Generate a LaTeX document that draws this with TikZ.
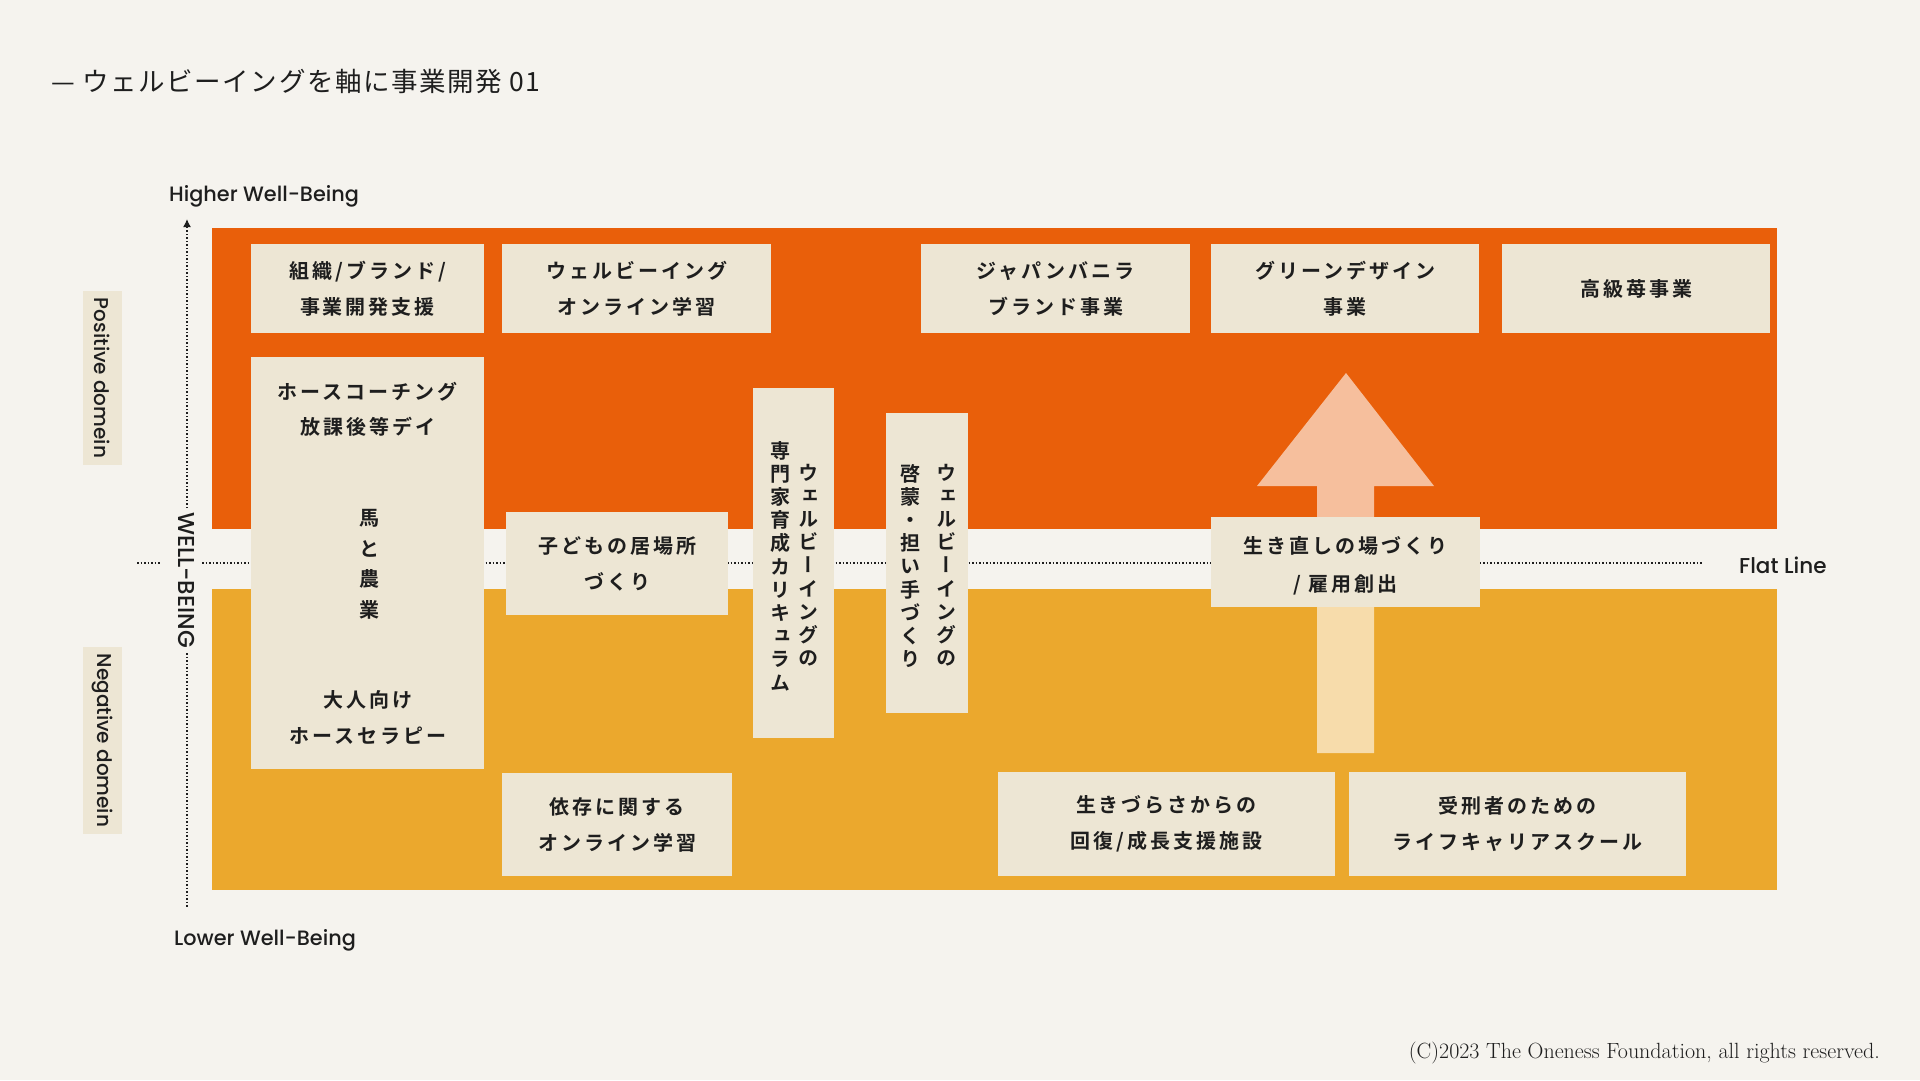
\documentclass[tikz,border=0pt]{standalone}
\usepackage{fontspec}
\usetikzlibrary{arrows.meta}
\newfontfamily\jpb{Noto Sans CJK JP}[UprightFont=* Bold, LetterSpace=15]
\newfontfamily\jpv{Noto Sans CJK JP}[UprightFont=* Bold, RawFeature=+vert]
\newfontfamily\jpt{Noto Sans CJK JP}[LetterSpace=6]
\newfontfamily\pop{Poppins Medium}
\definecolor{bgc}{HTML}{F5F3EE}
\definecolor{orng}{HTML}{E95F0A}
\definecolor{yllw}{HTML}{EBA82D}
\definecolor{boxc}{HTML}{EDE6D4}
\definecolor{ink}{HTML}{1E1E1E}
\tikzset{
  cbox/.style={fill=boxc, draw=none, inner sep=0pt},
  btxt/.style={font=\jpb\fontsize{20}{36}\selectfont, text=ink, align=center, inner sep=0pt},
  vtxt/.style={font=\jpv\fontsize{20}{23.2}\selectfont, text=ink, align=center, inner sep=0pt},
  lbl/.style={font=\pop\fontsize{20.8}{24}\selectfont, text=ink, inner sep=0pt},
  dots/.style={draw=ink, line width=1.5pt, dash pattern=on 1.5pt off 2pt},
}
\begin{document}
\begin{tikzpicture}[x=1pt,y=-1pt]
\fill[bgc] (0,0) rectangle (1920,1080);
\useasboundingbox (0,0) rectangle (1920,1080);
% bands
\fill[orng] (212,228) rectangle (1777,529);
\fill[yllw] (212,589) rectangle (1777,890);
% title
\node[anchor=west, font=\jpt\fontsize{26.5}{30}\selectfont, text=ink, inner sep=0pt] (title) at (51,81) {— ウェルビーイングを軸に事業開発 01};
% axis labels
\node[lbl, anchor=base west] (higher) at (169,201) {Higher Well-Being};
\node[lbl, anchor=base west] (lower) at (174,945) {Lower Well-Being};
\node[lbl, font=\pop\fontsize{21.5}{24}\selectfont, anchor=base west] (flat) at (1739,573) {Flat Line};
\node[lbl, font=\pop\fontsize{23}{26}\selectfont, rotate=-90] (wb) at (187,580) {WELL-BEING};
\node[cbox, lbl, font=\pop\fontsize{20}{24}\selectfont, rotate=-90, minimum width=174pt, minimum height=39pt] (pos) at (102.5,378) {Positive domein};
\node[cbox, lbl, font=\pop\fontsize{20}{24}\selectfont, rotate=-90, minimum width=187pt, minimum height=39pt] (neg) at (102.5,740.5) {Negative domein};
% axes
\coordinate (axtop) at (187,219);
\coordinate (axu) at (187,508);
\coordinate (axl) at (187,653);
\coordinate (axbot) at (187,907);
\draw[dots, -{Latex[length=8pt,width=8pt]}] (axu) -- (axtop);
\draw[dots] (axl) -- (axbot);
\coordinate (fl0) at (137,563);
\coordinate (fl1) at (160,563);
\coordinate (fl2) at (202,563);
\coordinate (fl3) at (1703,563);
\draw[dots] (fl0) -- (fl1);
\draw[dots] (fl2) -- (fl3);
% big arrow
\fill[white, fill opacity=0.6] (1346,373) -- (1434,486) -- (1374,486) -- (1374,753) -- (1317,753) -- (1317,486) -- (1257,486) -- cycle;
% top row boxes
\node[cbox, btxt, minimum width=233pt, minimum height=89pt] (b1) at (367.5,288.5) {組織/ブランド/\\事業開発支援};
\node[cbox, btxt, minimum width=269pt, minimum height=89pt] (b2) at (636.5,288.5) {ウェルビーイング\\オンライン学習};
\node[cbox, btxt, minimum width=269pt, minimum height=89pt] (b3) at (1055.5,288.5) {ジャパンバニラ\\ブランド事業};
\node[cbox, btxt, minimum width=268pt, minimum height=89pt] (b4) at (1345,288.5) {グリーンデザイン\\事業};
\node[cbox, btxt, minimum width=268pt, minimum height=89pt] (b5) at (1636,288.5) {高級苺事業};
% tall box
\node[cbox, minimum width=233pt, minimum height=412pt] (tall) at (367.5,563) {};
\node[btxt] (t1) at (367.5,392) {ホースコーチング};
\node[btxt] (t2) at (367.5,427) {放課後等デイ};
\node[btxt] (t3) at (369,518) {馬};
\node[btxt] (t4) at (369,549) {と};
\node[btxt] (t5) at (369,579) {農};
\node[btxt] (t6) at (369,610) {業};
\node[btxt] (t7) at (367.5,700) {大人向け};
\node[btxt] (t8) at (367.5,736) {ホースセラピー};
% middle boxes
\node[cbox, btxt, minimum width=222pt, minimum height=103pt] (kodomo) at (617,563.5) {子どもの居場所\\づくり};
\node[cbox, minimum width=81pt, minimum height=350pt] (v1) at (793.5,563) {};
\node[vtxt] (v1a) at (808,565) {ウ\\ェ\\ル\\ビ\\ー\\イ\\ン\\グ\\の};
\node[vtxt] (v1b) at (780,566) {専\\門\\家\\育\\成\\カ\\リ\\キ\\ュ\\ラ\\ム};
\node[cbox, minimum width=82pt, minimum height=300pt] (v2) at (927,563) {};
\node[vtxt] (v2a) at (946,565) {ウ\\ェ\\ル\\ビ\\ー\\イ\\ン\\グ\\の};
\node[vtxt] (v2b) at (910,566) {啓\\蒙\\・\\担\\い\\手\\づ\\く\\り};
\node[cbox, minimum width=269pt, minimum height=90pt] (ikinaoshi) at (1345.5,562) {};
\node[btxt, font=\jpb\fontsize{20}{38}\selectfont] (ikit) at (1345.5,566) {生き直しの場づくり\\/ 雇用創出};
% bottom boxes
\node[cbox, btxt, minimum width=230pt, minimum height=103pt] (izon) at (617,824.5) {依存に関する\\オンライン学習};
\node[cbox, btxt, minimum width=337pt, minimum height=104pt] (ikizura) at (1166.5,824) {生きづらさからの\\回復/成長支援施設};
\node[cbox, btxt, minimum width=337pt, minimum height=104pt] (jukei) at (1517.5,824) {受刑者のための\\ライフキャリアスクール};
% copyright
\node[anchor=base east, font=\fontsize{22}{26}\selectfont, text=ink, inner sep=0pt] (copy) at (1880,1058) {(C)2023 The Oneness Foundation, all rights reserved.};
\end{tikzpicture}
\end{document}
